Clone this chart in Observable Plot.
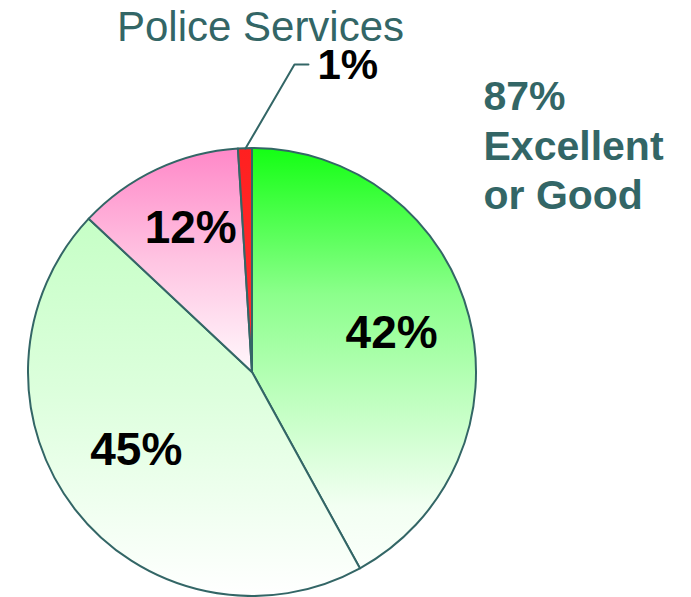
<!DOCTYPE html>
<html><head><meta charset="utf-8">
<script src="https://cdn.jsdelivr.net/npm/d3@7"></script>
<script src="https://cdn.jsdelivr.net/npm/@observablehq/plot@0.6"></script>
<style>body{margin:0;background:#fff} svg{display:block}</style>
</head><body><div id="chart"></div>
<script>
// ---- data ----
const title = "Police Services";
const categories = ["Excellent", "Good", "Fair", "Poor"];
const values = [42, 45, 12, 1];
const summaryWords = ["Excellent", "or Good"];

// ---- layout / style ----
const W = 691, H = 597;
const CX = 252, CY = 372, RPX = 224;           // pie centre and radius (px)
const TEAL = "#336666";
const FONT = "'Liberation Sans', Arial, Helvetica, sans-serif";
const gradients = [
  [["0", "#14ff14"], ["0.35", "#8cff8c"], ["0.85", "#f2fff2"], ["1", "#fbfffb"]],
  [["0", "#c6ffc6"], ["0.45", "#dcffdc"], ["1", "#ffffff"]],
  [["0", "#ff88c8"], ["0.5", "#ffc4e2"], ["1", "#fff8fc"]],
  [["0", "#ff2020"], ["1", "#ff3030"]]
];
const labelRadius = [0.645, 0.625, 0.70];       // inside labels (fraction of radius)
const labelShiftDeg = [-1.3, 3.9, 2.0];         // small angular nudges

const arcs = d3.pie().sort(null).value(d => d)(values);
const mid = a => (a.startAngle + a.endAngle) / 2;
const polar = (ang, r) => [r * Math.sin(ang), r * Math.cos(ang)];

const pieData = categories.map((c, i) => ({category: c, value: values[i], arc: arcs[i]}));

// inside labels
const inside = pieData.slice(0, 3).map((d, i) => {
  const [x, y] = polar(mid(d.arc) + labelShiftDeg[i] * Math.PI / 180, labelRadius[i]);
  return {x, y, text: `${d.value}%`};
});

// callout for the smallest slice
const small = pieData[3];
const p0 = polar(mid(small.arc), 1);
const p1 = [p0[0] + 49 / RPX, p0[1] + 84 / RPX];
const p2 = [p1[0] + 14 / RPX, p1[1]];
const leader = [p0, p1, p2];
const calloutLabel = [{x: p2[0] + 9 / RPX, y: p2[1] - 1 / RPX, text: `${small.value}%`}];

const summary = [`${values[0] + values[1]}%`, ...summaryWords].join("\n");

function pieMark(index, scales) {
  const cx = scales.x(0), cy = scales.y(0);
  const r = scales.x(1) - scales.x(0);
  const g = d3.create("svg:g");
  const defs = g.append("defs");
  gradients.forEach((stops, i) => {
    const lg = defs.append("linearGradient").attr("id", "grad" + i)
      .attr("x1", 0).attr("y1", 0).attr("x2", 0).attr("y2", 1);
    stops.forEach(([o, c]) => lg.append("stop").attr("offset", o).attr("stop-color", c));
  });
  const arcGen = d3.arc().innerRadius(0).outerRadius(r);
  g.append("g").attr("transform", `translate(${cx},${cy})`)
    .selectAll("path").data(pieData).join("path")
    .attr("d", d => arcGen(d.arc))
    .attr("fill", (d, i) => `url(#grad${i})`)
    .attr("stroke", TEAL).attr("stroke-width", 2).attr("stroke-linejoin", "round");
  return g.node();
}

const chart = Plot.plot({
  width: W, height: H, margin: 0,
  style: {fontFamily: FONT, background: "#fff"},
  x: {domain: [-CX / RPX, (W - CX) / RPX], axis: null},
  y: {domain: [-(H - CY) / RPX, CY / RPX], axis: null},
  marks: [
    pieMark,
    Plot.text(inside, {x: "x", y: "y", text: "text", fontSize: 46, fontWeight: "bold", fill: "#000", lineAnchor: "middle"}),
    Plot.line(leader, {x: d => d[0], y: d => d[1], stroke: TEAL, strokeWidth: 2, curve: "linear"}),
    Plot.text(calloutLabel, {x: "x", y: "y", text: "text", fontSize: 42, fontWeight: "bold", fill: "#000", textAnchor: "start", lineAnchor: "middle"}),
    Plot.text([title], {x: 0, frameAnchor: "top", dx: 8, dy: 40, text: d => d, fontSize: 42, fill: TEAL, lineAnchor: "bottom"}),
    Plot.text([summary], {x: 231 / RPX, y: 297 / RPX, text: d => d, fontSize: 41, fontWeight: "bold", fill: TEAL, textAnchor: "start", lineAnchor: "top", lineHeight: 1.2})
  ]
});
document.getElementById("chart").appendChild(chart);
</script>
</body></html>
